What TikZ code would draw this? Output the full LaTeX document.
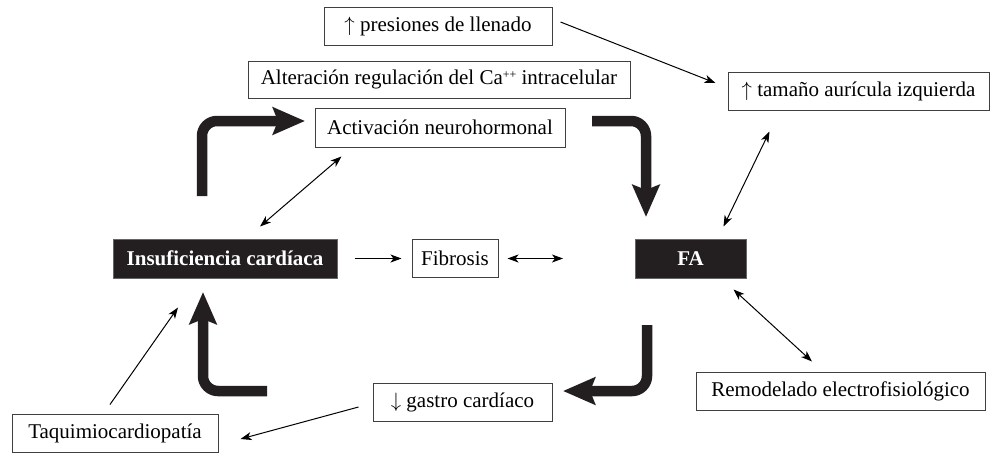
\documentclass[tikz,border=0pt]{standalone}
\usepackage{fontspec}
\setmainfont{Liberation Serif}
\usetikzlibrary{arrows.meta,calc}
\definecolor{ink}{RGB}{35,31,32}
\begin{document}
\begin{tikzpicture}[x=1pt,y=-1pt, font=\fontsize{21}{25}\selectfont,
  box/.style={draw=black!75, line width=1pt, inner sep=0pt, fill=white},
  dark/.style={draw=black!60, line width=1pt, fill=ink, text=white, font=\fontsize{21}{25}\selectfont\bfseries, inner sep=0pt},
  thinarrow/.style={line width=1pt, -{Stealth[length=11pt,width=8pt,inset=3pt]}},
  thinboth/.style={line width=1pt, {Stealth[length=11pt,width=8pt,inset=3pt]}-{Stealth[length=11pt,width=8pt,inset=3pt]}},
  bigarrow/.style={draw=ink, line width=10.5pt, rounded corners=15pt, -{Stealth[length=32pt,width=27pt,inset=5pt]}}]
\useasboundingbox (0,0) rectangle (990,453);

% nodes
\node[box, minimum width=228pt, minimum height=38pt] (pres) at (438,26) {$\uparrow$ presiones de llenado};
\node[box, minimum width=382pt, minimum height=37pt] (alt) at (439,79.5) {Alteración regulación del Ca\raisebox{6pt}{\fontsize{12}{12}\selectfont ++} intracelular};
\node[box, minimum width=250pt, minimum height=39pt] (act) at (440,127.5) {Activación neurohormonal};
\node[box, minimum width=261pt, minimum height=38pt] (tam) at (858.5,91) {$\uparrow$ tamaño aurícula izquierda};
\node[dark, minimum width=224pt, minimum height=39pt] (ic) at (225,258.5) {Insuficiencia cardíaca};
\node[box, minimum width=86pt, minimum height=38pt] (fib) at (455,258.5) {Fibrosis};
\node[dark, minimum width=111pt, minimum height=39pt] (fa) at (690.5,258.5) {FA};
\node[box, minimum width=289pt, minimum height=38pt] (rem) at (840.5,391) {Remodelado electrofisiológico};
\node[box, minimum width=179pt, minimum height=38pt] (gas) at (462.5,402) {$\downarrow$ gastro cardíaco};
\node[box, minimum width=206pt, minimum height=38pt] (taq) at (115,433) {Taquimiocardiopatía};

% thin connectors
\draw[thinarrow] ($(pres.east)+(8,-4)$) -- ($(tam.west)+(-12,-8)$);
\draw[thinboth] ($(ic.north)+(35,-12)$) -- ($(act.south west)+(27,9)$);
\draw[thinboth] ($(tam.south west)+(42,21)$) -- ($(fa.north east)+(-23,-12)$);
\draw[thinboth] ($(fa.south east)+(-13,11)$) -- ($(rem.north)+(-28.5,-10)$);
\draw[thinarrow] ($(ic.east)+(17,0)$) -- ($(fib.west)+(-10,0)$);
\coordinate (fibfree) at (563,258.5);
\draw[thinboth] ($(fib.east)+(9,0)$) -- (fibfree);
\draw[thinarrow] ($(gas.west)+(-14,5)$) -- ($(taq.east)+(22,6)$);
\draw[thinarrow] ($(taq.north)+(-5,-9)$) -- ($(ic.south)+(-47,29)$);

% thick cycle arrows
\coordinate (tl0) at (202,196); \coordinate (tl1) at (202,121); \coordinate (tl2) at (305,121);
\coordinate (tr0) at (592,121); \coordinate (tr1) at (646,121); \coordinate (tr2) at (646,217);
\coordinate (br0) at (647,325); \coordinate (br1) at (647,391); \coordinate (br2) at (563,391);
\coordinate (bl0) at (267,391); \coordinate (bl1) at (203,391); \coordinate (bl2) at (203,292);
\draw[bigarrow] (tl0) -- (tl1) -- (tl2);
\draw[bigarrow] (tr0) -- (tr1) -- (tr2);
\draw[bigarrow] (br0) -- (br1) -- (br2);
\draw[bigarrow] (bl0) -- (bl1) -- (bl2);
\end{tikzpicture}
\end{document}
